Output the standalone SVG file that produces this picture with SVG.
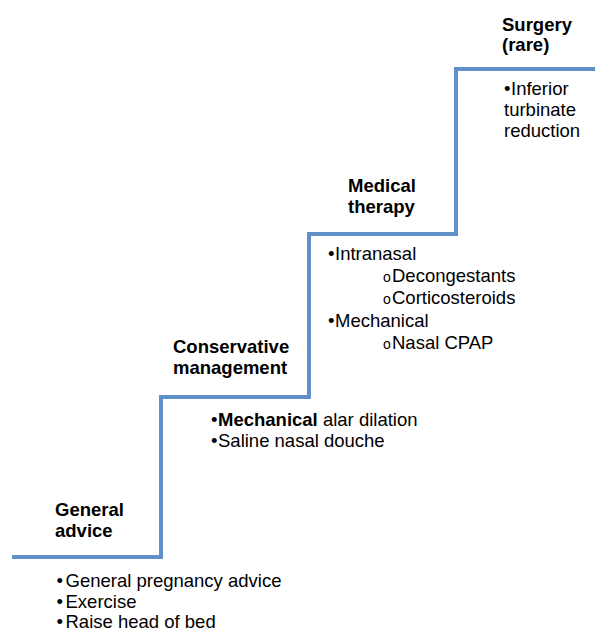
<svg xmlns="http://www.w3.org/2000/svg" width="595" height="632" viewBox="0 0 595 632">
<style>
text{font-family:"Liberation Sans",Arial,sans-serif;font-size:18.5px;fill:#000}
.h{font-weight:bold}
.o{font-size:14px}
.stair{fill:none;stroke:#5f90c8;stroke-width:4;stroke-linejoin:miter}
</style>
<rect width="595" height="632" fill="#fff"/>
<g id="connectors">
<path class="stair" d="M12 557 H161 V397 H309 V234 H456 V69 H595"/>
</g>
<g id="general-advice">
<text class="h" x="55" y="516">General</text>
<text class="h" x="55" y="537">advice</text>
<text x="56.5" y="587">•<tspan x="65.5">General pregnancy advice</tspan></text>
<text x="56.5" y="608">•<tspan x="65.5">Exercise</tspan></text>
<text x="56.5" y="628">•<tspan x="65.5">Raise head of bed</tspan></text>
</g>
<g id="conservative-management">
<text class="h" x="173" y="353">Conservative</text>
<text class="h" x="173" y="374">management</text>
<text x="211" y="426">•<tspan x="218" font-weight="bold">Mechanical</tspan> alar dilation</text>
<text x="211" y="447">•<tspan x="218">Saline nasal douche</tspan></text>
</g>
<g id="medical-therapy">
<text class="h" x="348" y="192">Medical</text>
<text class="h" x="348" y="213">therapy</text>
<text x="328" y="260">•<tspan x="335">Intranasal</tspan></text>
<text x="383" y="282"><tspan class="o">o</tspan><tspan x="392">Decongestants</tspan></text>
<text x="383" y="304"><tspan class="o">o</tspan><tspan x="392">Corticosteroids</tspan></text>
<text x="328" y="327">•<tspan x="335">Mechanical</tspan></text>
<text x="383" y="349"><tspan class="o">o</tspan><tspan x="392">Nasal CPAP</tspan></text>
</g>
<g id="surgery">
<text class="h" x="502" y="31">Surgery</text>
<text class="h" x="502" y="51">(rare)</text>
<text x="504" y="95">•<tspan x="511">Inferior</tspan></text>
<text x="504" y="116">turbinate</text>
<text x="504" y="137">reduction</text>
</g>
</svg>
